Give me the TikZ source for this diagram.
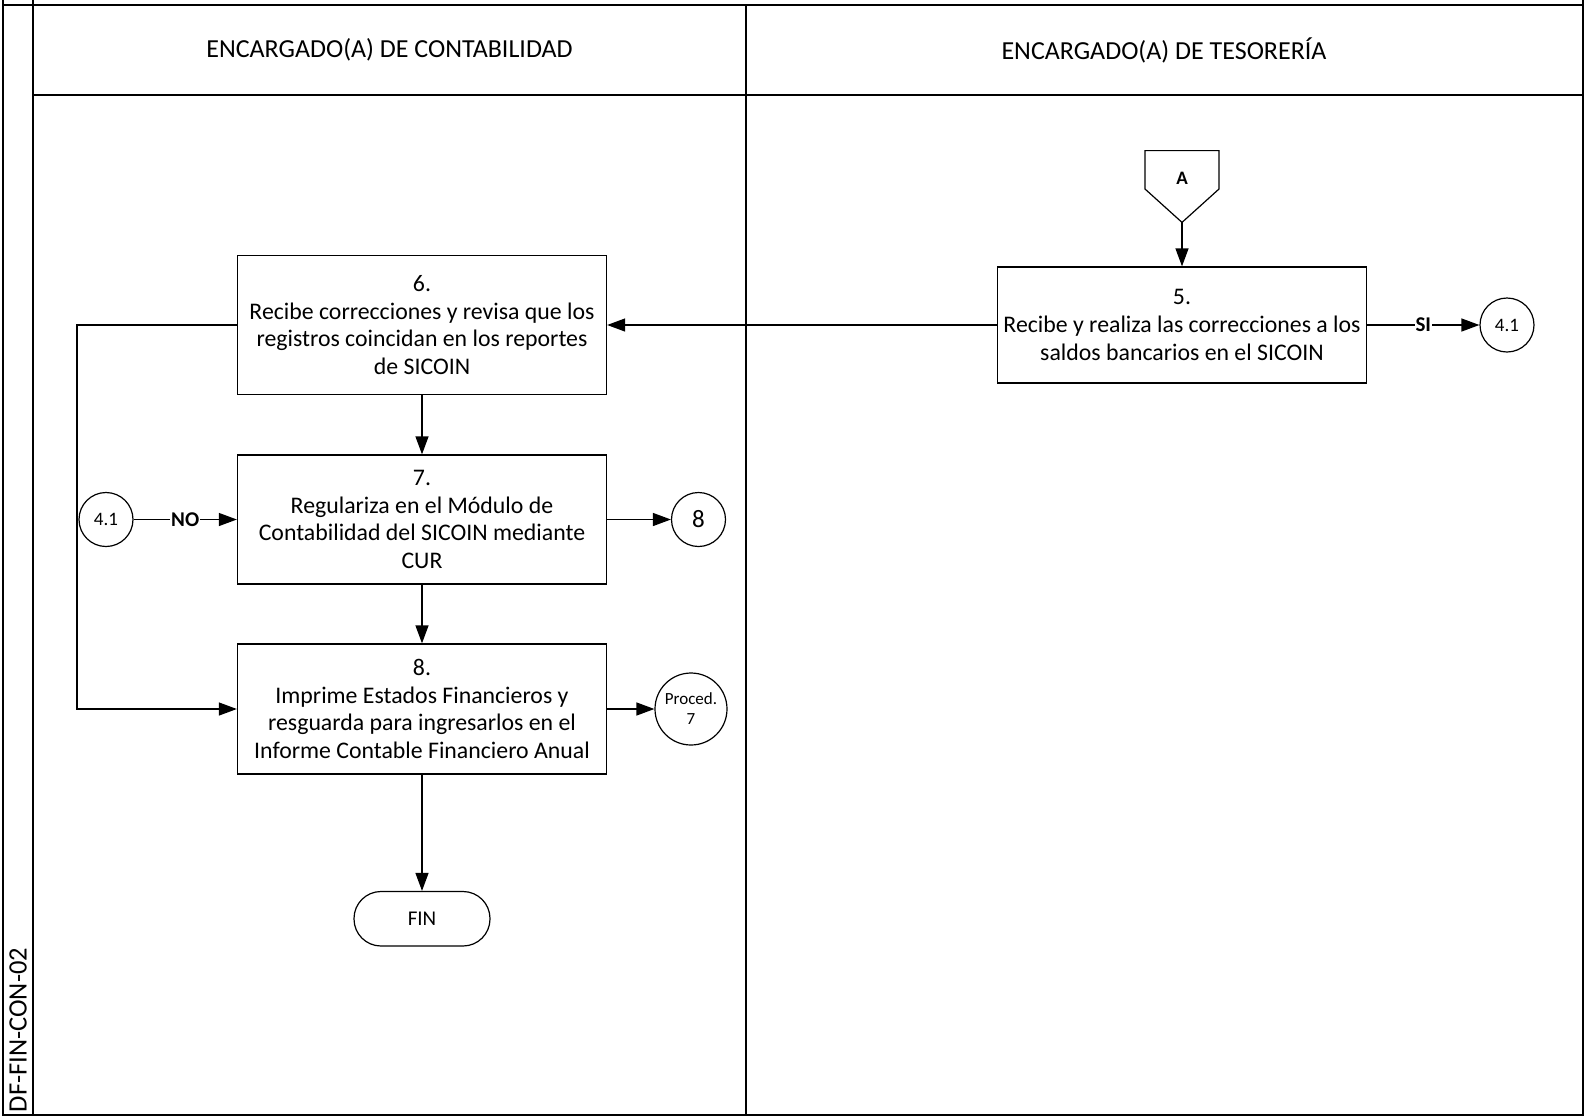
\documentclass[tikz,border=0pt]{standalone}
\usepackage{fontspec}
\setmainfont{Carlito}
\usetikzlibrary{arrows.meta,shapes.geometric}
\begin{document}
\begin{tikzpicture}[x=1pt,y=-1pt,
  frame/.style={line width=1.6pt},
  proc/.style={draw, line width=1.3pt, minimum width=369pt, align=center,
    inner sep=0pt, font=\fontsize{23.8}{27.8}\selectfont},
  conn/.style={draw, circle, line width=1.2pt, inner sep=0pt},
  flow/.style={line width=1.3pt, -{Triangle[length=18pt,width=13pt]}},
  lbl/.style={fill=white, inner sep=1pt, font=\fontsize{21}{24}\selectfont\bfseries},
  lanehead/.style={font=\fontsize{26}{30}\selectfont}]
\useasboundingbox (0,0) rectangle (1585,1117);

% swimlane frame
\draw[frame] (3,0) -- (3,1115) -- (1583,1115) -- (1583,0);
\draw[frame] (3,5) -- (1583,5);
\draw[frame] (33,0) -- (33,1115);
\draw[frame] (33,95) -- (1583,95);
\draw[frame] (746,5) -- (746,1115);
\node[lanehead] (h1) at (389.5,50) {ENCARGADO(A) DE CONTABILIDAD};
\node[lanehead] (h2) at (1164,50) {ENCARGADO(A) DE TESORERÍA};
\node[rotate=90, font=\fontsize{26.5}{30}\selectfont] (code) at (18,1030) {DF-FIN-CON-02};

% off-page connector A
\draw[line width=1.2pt] (1145,150.6) -- (1219,150.6) -- (1219,189) -- (1182,222.4) -- (1145,189) -- cycle;
\node[font=\fontsize{19}{22}\selectfont\bfseries] (A) at (1182,178) {A};
\coordinate (Atip) at (1182,222.4);

% process steps
\node[proc, minimum height=116pt] (s5) at (1182,325)
  {5.\\Recibe y realiza las correcciones a los\\saldos bancarios en el SICOIN};
\node[proc, minimum height=138.5pt] (s6) at (422,325)
  {6.\\Recibe correcciones y revisa que los\\registros coincidan en los reportes\\de SICOIN};
\node[proc, minimum height=129pt] (s7) at (422,519.5)
  {7.\\Regulariza en el Módulo de\\Contabilidad del SICOIN mediante\\CUR};
\node[proc, minimum height=130pt] (s8) at (422,709)
  {8.\\Imprime Estados Financieros y\\resguarda para ingresarlos en el\\Informe Contable Financiero Anual};

% connectors and terminator
\node[conn, minimum size=54pt, font=\fontsize{19}{22}\selectfont] (c41r) at (1507,325) {4.1};
\node[conn, minimum size=54pt, font=\fontsize{19}{22}\selectfont] (c41l) at (106,519.5) {4.1};
\node[conn, minimum size=54pt, font=\fontsize{25}{28}\selectfont] (c8) at (698.5,519.5) {8};
\node[conn, minimum size=72pt, align=center, font=\fontsize{17}{20}\selectfont] (p7) at (691,709) {Proced.\\7};
\node[draw, line width=1.2pt, rounded corners=27pt, minimum width=136pt, minimum height=54.5pt,
  font=\fontsize{21}{24}\selectfont] (fin) at (422,918.75) {FIN};

% flow lines
\draw[flow] (Atip) -- (s5.north);
\draw[flow] (s5.west) -- (s6.east);
\draw[flow] (s5.east) -- node[lbl] (si) {SI} (c41r.west);
\draw[flow] (s6) -- (s7);
\draw[flow] (s7) -- (s8);
\draw[flow] (s8) -- (fin);
\draw[flow] (c41l.east) -- node[lbl] (no) {NO} (s7.west);
\draw[flow] (s7.east) -- (c8.west);
\draw[flow] (s8.east) -- (p7.west);
\draw[flow] (s6.west) -- (77,325) -- (77,709) -- (s8.west);
\end{tikzpicture}
\end{document}
